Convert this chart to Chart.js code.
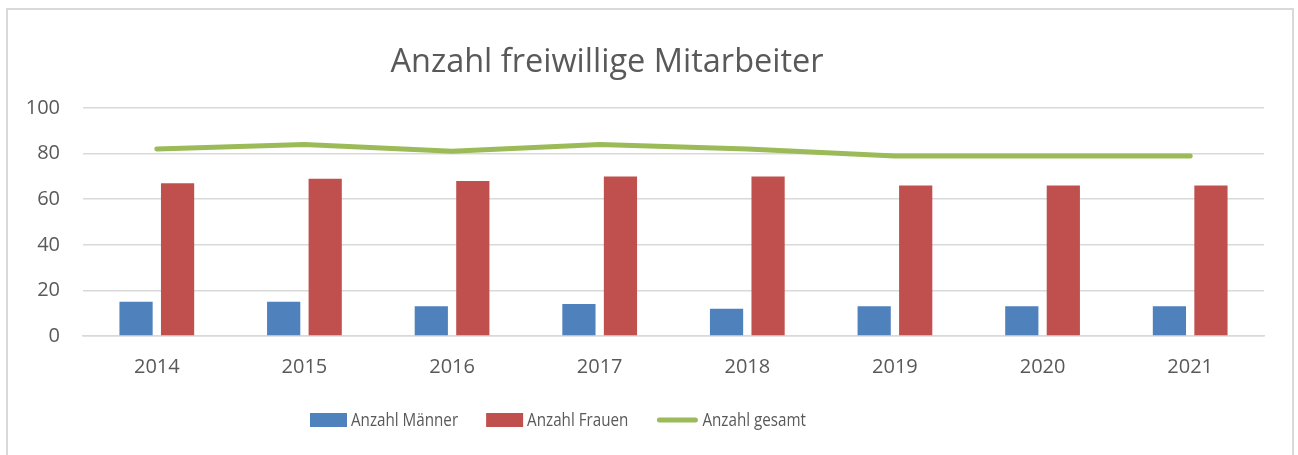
<!DOCTYPE html>
<html>
<head>
<meta charset="utf-8">
<script src="https://cdn.jsdelivr.net/npm/chart.js@4"></script>
<style>
  html, body { margin: 0; padding: 0; background: #ffffff; overflow: hidden; }
  #wrap { position: relative; width: 1298px; height: 455px; }
  #frame { position: absolute; left: 6px; top: 8px; width: 1284px; height: 500px;
           border: 2px solid #d9d9d9; pointer-events: none; }
  canvas { position: absolute; left: 0; top: 0; }
</style>
</head>
<body>
<div id="wrap">
  <canvas id="c" width="1298" height="455"></canvas>
  <div id="frame"></div>
</div>
<script>
const chartTitle = 'Anzahl freiwillige Mitarbeiter';
const categories = ['2014', '2015', '2016', '2017', '2018', '2019', '2020', '2021'];
const maenner = [15, 15, 13, 14, 12, 13, 13, 13];
const frauen = [67, 69, 68, 70, 70, 66, 66, 66];
const gesamt = [82, 84, 81, 84, 82, 79, 79, 79];
const seriesNames = ['Anzahl Männer', 'Anzahl Frauen', 'Anzahl gesamt'];
const yTicks = [0, 20, 40, 60, 80, 100];

const TEXT = '#595959';
const GRID = '#d9d9d9';
const BLUE = '#4F81BD', RED = '#C0504D', GREEN = '#9BBB59';

Chart.defaults.font.family = "'Open Sans', sans-serif";
Chart.defaults.color = TEXT;

const decor = {
  id: 'decor',
  afterDraw(chart) {
    const ctx = chart.ctx;
    ctx.save();
    // title
    ctx.fillStyle = TEXT;
    ctx.font = '32.5px "Open Sans", sans-serif';
    ctx.textAlign = 'center';
    ctx.textBaseline = 'middle';
    ctx.fillText(chartTitle, 607, 63);
    // legend
    ctx.font = '19px "Open Sans", sans-serif';
    ctx.textAlign = 'left';
    const sx = 0.8;
    let x = 310;
    const y = 420;
    const styles = [{type: 'box', color: BLUE}, {type: 'box', color: RED}, {type: 'line', color: GREEN}];
    const order = [1, 2, 0];
    order.forEach((dsIdx, k) => {
      const ds = chart.data.datasets[dsIdx];
      const st = styles[k];
      if (st.type === 'box') {
        ctx.fillStyle = st.color;
        ctx.fillRect(x, y - 7, 37, 14);
        x += 37;
      } else {
        ctx.strokeStyle = st.color;
        ctx.lineWidth = 5;
        ctx.lineCap = 'round';
        ctx.beginPath();
        ctx.moveTo(x + 3, y);
        ctx.lineTo(x + 39, y);
        ctx.stroke();
        x += 42;
      }
      x += 4;
      ctx.fillStyle = TEXT;
      ctx.save();
      ctx.translate(x, y + 1);
      ctx.scale(sx, 1);
      ctx.fillText(ds.label, 0, 0);
      ctx.restore();
      x += ctx.measureText(ds.label).width * sx + 28;
    });
    ctx.restore();
  }
};

new Chart(document.getElementById('c'), {
  data: {
    labels: categories,
    datasets: [
      { type: 'line', label: seriesNames[2], data: gesamt, borderColor: GREEN, backgroundColor: GREEN,
        borderWidth: 5, pointRadius: 0, tension: 0, borderCapStyle: 'round', borderJoinStyle: 'round', order: 0 },
      { type: 'bar', label: seriesNames[0], data: maenner, backgroundColor: BLUE,
        categoryPercentage: 0.5625, barPercentage: 0.8, order: 1 },
      { type: 'bar', label: seriesNames[1], data: frauen, backgroundColor: RED,
        categoryPercentage: 0.5625, barPercentage: 0.8, order: 1 }
    ]
  },
  options: {
    responsive: false,
    animation: false,
    layout: { padding: { left: 0, right: 34, top: 108, bottom: 0 } },
    plugins: { legend: { display: false }, title: { display: false }, tooltip: { enabled: false } },
    scales: {
      x: {
        grid: { display: false },
        border: { display: true, color: GRID, width: 1.5 },
        ticks: { font: { size: 20 }, color: TEXT, padding: 11 },
        afterFit(s) { s.height = 119; }
      },
      y: {
        min: 0, max: 100,
        afterBuildTicks(s) { s.ticks = yTicks.map(v => ({ value: v })); },
        grid: { color: GRID, lineWidth: 1.5, drawTicks: false },
        border: { display: false },
        ticks: { font: { size: 20 }, color: TEXT, padding: 23 },
        afterFit(s) { s.width = 83; }
      }
    }
  },
  plugins: [decor]
});
</script>
</body>
</html>
